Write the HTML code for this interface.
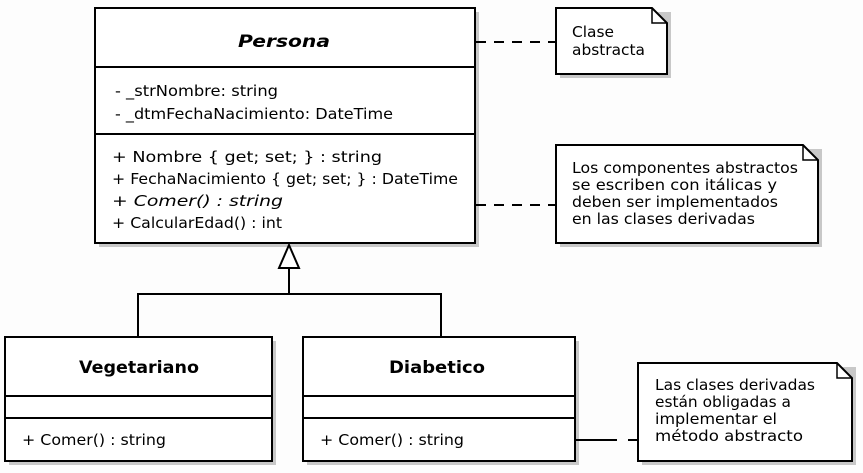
<!DOCTYPE html>
<html><head><meta charset="utf-8"><style>
html,body{margin:0;padding:0;background:#fff;}
svg{display:block;}
text{font-family:"DejaVu Sans","Liberation Sans",sans-serif;fill:#000;font-size:15.5px;}
.t{font-size:17px;font-weight:bold;}
</style></head><body>
<svg width="863" height="473" viewBox="0 0 863 473" xmlns="http://www.w3.org/2000/svg">
<rect width="863" height="473" fill="#fdfdfd"/>
<g fill="#c8c8c8">
<rect x="99" y="12" width="380" height="235"/>
<rect x="9" y="341" width="267" height="124"/>
<rect x="307" y="341" width="272" height="124"/>
<rect x="560" y="12" width="111" height="66"/>
<rect x="560" y="149" width="262" height="98"/>
<rect x="642" y="367" width="214" height="98"/>
</g>
<g fill="#fff" stroke="#000" stroke-width="2">
<rect x="95" y="8" width="380" height="235"/>
<rect x="5" y="337" width="267" height="124"/>
<rect x="303" y="337" width="272" height="124"/>
<path d="M556 8 H652 L667 23 V74 H556 Z"/>
<path d="M556 145 H803 L818 160 V243 H556 Z"/>
<path d="M638 363 H837 L852 378 V461 H638 Z"/>
</g>
<g fill="none" stroke="#000" stroke-width="1.5">
<path d="M652 8 V23 H667"/>
<path d="M803 145 V160 H818"/>
<path d="M837 363 V378 H852"/>
</g>
<g stroke="#000" stroke-width="2" fill="none">
<line x1="95" y1="67" x2="475" y2="67"/>
<line x1="95" y1="134" x2="475" y2="134"/>
<line x1="5" y1="396" x2="272" y2="396"/>
<line x1="5" y1="418" x2="272" y2="418"/>
<line x1="303" y1="396" x2="575" y2="396"/>
<line x1="303" y1="418" x2="575" y2="418"/>
<path d="M138 337 V294 H441 V337"/>
<line x1="289" y1="294" x2="289" y2="268"/>
<path d="M289 245 L299 268 H279 Z" fill="#fff"/>
<line x1="476" y1="42" x2="556" y2="42" stroke-dasharray="10,8"/>
<line x1="476" y1="205" x2="556" y2="205" stroke-dasharray="10,8"/>
<line x1="575" y1="440" x2="617" y2="440"/>
<line x1="628" y1="440" x2="638" y2="440"/>
</g>
<text x="238" y="47" class="t" style="font-size:17px;font-style:italic" textLength="92" lengthAdjust="spacingAndGlyphs">Persona</text>
<text x="115" y="96" style="font-size:15.5px" textLength="163" lengthAdjust="spacingAndGlyphs">- _strNombre: string</text>
<text x="115" y="119" style="font-size:15.5px" textLength="278" lengthAdjust="spacingAndGlyphs">- _dtmFechaNacimiento: DateTime</text>
<text x="112" y="162" style="font-size:15.5px" textLength="270" lengthAdjust="spacingAndGlyphs">+ Nombre { get; set; } : string</text>
<text x="112" y="184" style="font-size:15.5px" textLength="346" lengthAdjust="spacingAndGlyphs">+ FechaNacimiento { get; set; } : DateTime</text>
<text x="112" y="206" style="font-size:15.5px" textLength="171" lengthAdjust="spacingAndGlyphs">+ <tspan style="font-style:italic">Comer() : string</tspan></text>
<text x="112" y="228" style="font-size:15.5px" textLength="170" lengthAdjust="spacingAndGlyphs">+ CalcularEdad() : int</text>
<text x="79" y="373" class="t" style="font-size:17px" textLength="120" lengthAdjust="spacingAndGlyphs">Vegetariano</text>
<text x="389" y="373" class="t" style="font-size:17px" textLength="96" lengthAdjust="spacingAndGlyphs">Diabetico</text>
<text x="22" y="445" style="font-size:15.5px" textLength="144" lengthAdjust="spacingAndGlyphs">+ Comer() : string</text>
<text x="320" y="445" style="font-size:15.5px" textLength="144" lengthAdjust="spacingAndGlyphs">+ Comer() : string</text>
<text x="572" y="37" style="font-size:15.5px" textLength="42" lengthAdjust="spacingAndGlyphs">Clase</text>
<text x="572" y="55" style="font-size:15.5px" textLength="73" lengthAdjust="spacingAndGlyphs">abstracta</text>
<text x="572" y="173" style="font-size:15.5px" textLength="226" lengthAdjust="spacingAndGlyphs">Los componentes abstractos</text>
<text x="572" y="190" style="font-size:15.5px" textLength="205" lengthAdjust="spacingAndGlyphs">se escriben con itálicas y</text>
<text x="572" y="207" style="font-size:15.5px" textLength="206" lengthAdjust="spacingAndGlyphs">deben ser implementados</text>
<text x="572" y="224" style="font-size:15.5px" textLength="183" lengthAdjust="spacingAndGlyphs">en las clases derivadas</text>
<text x="655" y="390" style="font-size:15.5px" textLength="160" lengthAdjust="spacingAndGlyphs">Las clases derivadas</text>
<text x="655" y="407" style="font-size:15.5px" textLength="136" lengthAdjust="spacingAndGlyphs">están obligadas a</text>
<text x="655" y="424" style="font-size:15.5px" textLength="122" lengthAdjust="spacingAndGlyphs">implementar el</text>
<text x="655" y="441" style="font-size:15.5px" textLength="148" lengthAdjust="spacingAndGlyphs">método abstracto</text>
</svg>
</body></html>
